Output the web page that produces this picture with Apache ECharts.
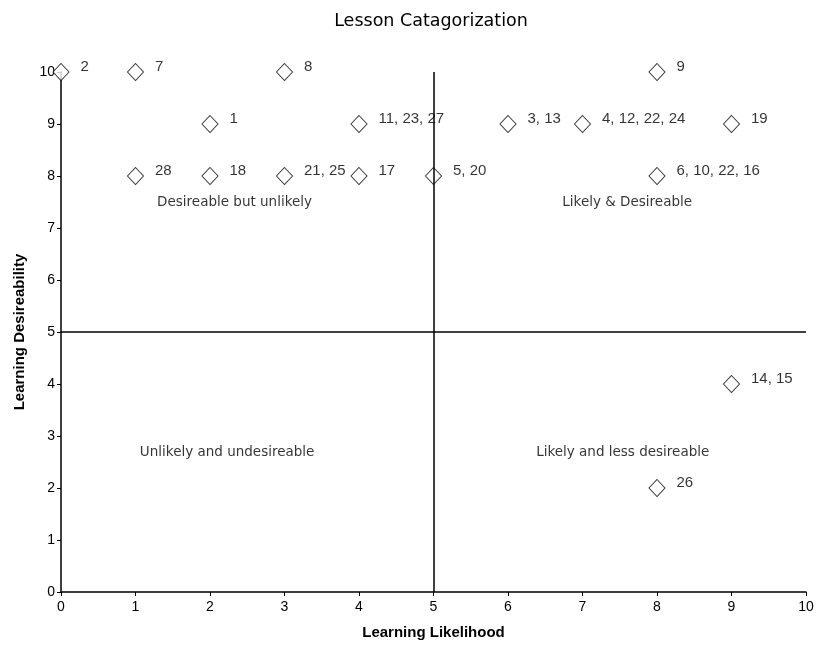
<!DOCTYPE html>
<html>
<head>
<meta charset="utf-8">
<script src="https://cdn.jsdelivr.net/npm/echarts@6/dist/echarts.min.js"></script>
<style>
  html, body { margin: 0; padding: 0; background: #fff; }
  #main { width: 817px; height: 649px; }
</style>
</head>
<body>
<div id="main"></div>
<script>
// lesson points: likelihood, desireability, lesson numbers
var likelihood = [0, 1, 3, 8, 2, 4, 6, 7, 9, 1, 2, 3, 4, 5, 8, 9, 8];
var desireability = [10, 10, 10, 10, 9, 9, 9, 9, 9, 8, 8, 8, 8, 8, 8, 4, 2];
var lessonLabels = ['2', '7', '8', '9', '1', '11, 23, 27', '3, 13', '4, 12, 22, 24', '19',
    '28', '18', '21, 25', '17', '5, 20', '6, 10, 22, 16', '14, 15', '26'];

// quadrant captions
var quadrantNames = ['Desireable but unlikely', 'Likely & Desireable', 'Unlikely and undesireable', 'Likely and less desireable'];
var quadrantX = [2.33, 7.6, 2.23, 7.54];
var quadrantY = [7.5, 7.5, 2.69, 2.69];

var axisTicks = [0, 1, 2, 3, 4, 5, 6, 7, 8, 9, 10];

var font = 'Liberation Sans, Arial, sans-serif';
var wideFont = 'DejaVu Sans, sans-serif';

var points = likelihood.map(function(x, i) {
    return { value: [x, desireability[i]], name: lessonLabels[i] };
});
var captions = quadrantNames.map(function(n, i) {
    return { value: [quadrantX[i], quadrantY[i]], name: n };
});

var myChart = echarts.init(document.getElementById('main'));

var option = {
    animation: false,
    backgroundColor: '#fff',
    title: {
        text: 'Lesson Catagorization',
        left: 426,
        textAlign: 'center',
        top: 7,
        textStyle: { fontFamily: wideFont, fontSize: 17.5, fontWeight: 'normal', color: '#000' }
    },
    grid: { left: 61, right: 11, top: 72, bottom: 57 },
    xAxis: {
        type: 'value',
        min: axisTicks[0],
        max: axisTicks[axisTicks.length - 1],
        interval: 1,
        name: 'Learning Likelihood',
        nameLocation: 'middle',
        nameGap: 33,
        nameTextStyle: { fontFamily: font, fontSize: 15, fontWeight: 'bold', color: '#000' },
        axisLine: { lineStyle: { color: '#000', width: 1.5 } },
        axisTick: { length: 4, lineStyle: { color: '#000' } },
        axisLabel: { fontFamily: font, fontSize: 14, color: '#000', margin: 8 },
        splitLine: { show: false }
    },
    yAxis: {
        type: 'value',
        min: axisTicks[0],
        max: axisTicks[axisTicks.length - 1],
        interval: 1,
        name: 'Learning Desireability',
        nameLocation: 'middle',
        nameGap: 34,
        nameTextStyle: { fontFamily: font, fontSize: 15, fontWeight: 'bold', color: '#000' },
        axisLine: { show: true, lineStyle: { color: '#000', width: 1.5 } },
        axisTick: { show: true, length: 4, lineStyle: { color: '#000' } },
        axisLabel: { fontFamily: font, fontSize: 14, color: '#000', margin: 6 },
        splitLine: { show: false }
    },
    series: [
        {
            type: 'scatter',
            data: points,
            symbol: 'diamond',
            symbolSize: [16, 17],
            itemStyle: { color: '#fff', borderColor: '#000', borderWidth: 1 },
            label: {
                show: true,
                position: 'right',
                distance: 11,
                offset: [0, -5],
                formatter: '{b}',
                fontFamily: font,
                fontSize: 15,
                color: '#000'
            },
            z: 3,
            markLine: {
                silent: true,
                symbol: 'none',
                label: { show: false },
                lineStyle: { color: '#000', width: 1.5, type: 'solid' },
                data: [{ xAxis: 5 }, { yAxis: 5 }]
            }
        },
        {
            type: 'scatter',
            data: captions,
            symbolSize: 0,
            silent: true,
            label: {
                show: true,
                position: 'inside',
                formatter: '{b}',
                fontFamily: wideFont,
                fontSize: 13.5,
                color: '#000'
            }
        }
    ]
};

myChart.setOption(option);
</script>
</body>
</html>
